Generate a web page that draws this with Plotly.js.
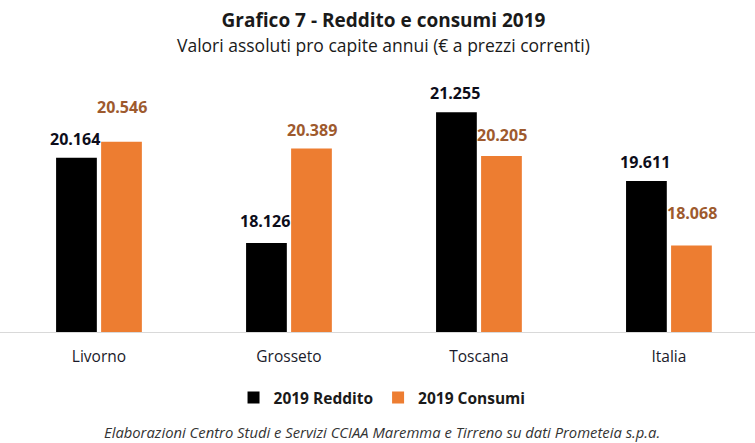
<!DOCTYPE html>
<html>
<head>
<meta charset="utf-8">
<script src="https://cdn.plot.ly/plotly-3.0.1.min.js"></script>
<style>html,body{margin:0;padding:0;background:#fff;}#chart{width:755px;height:443px;}</style>
</head>
<body>
<div id="chart"></div>
<script>
// ---- data ----
const categories = ["Livorno", "Grosseto", "Toscana", "Italia"];
const reddito = [20164, 18126, 21255, 19611];
const consumi = [20546, 20389, 20205, 18068];
const seriesNames = ["2019 Reddito", "2019 Consumi"];

// ---- style ----
const FONT = "'Open Sans', 'Noto Sans', sans-serif";
const redditoShift = [19, 22, 19, 19];   // label pixel offsets above bars
const consumiShift = [35, 18, 21, 32];
const fmt = v => v.toLocaleString('de-DE');

const xIdx = categories.map((c, i) => i);

const traces = [
  {type: 'bar', name: seriesNames[0], x: xIdx, y: reddito,
   marker: {color: '#000000'}, hoverinfo: 'skip'},
  {type: 'bar', name: seriesNames[1], x: xIdx, y: consumi,
   marker: {color: '#ED7D31'}, hoverinfo: 'skip'}
];

const annotations = [];
reddito.forEach((v, i) => annotations.push({
  x: i, y: v, xref: 'x', yref: 'y', xshift: -23.5, yshift: redditoShift[i],
  text: fmt(v), showarrow: false, yanchor: 'middle',
  font: {family: FONT, size: 16, color: '#0d0d1a', weight: 'bold'}
}));
consumi.forEach((v, i) => annotations.push({
  x: i, y: v, xref: 'x', yref: 'y', xshift: 23.5, yshift: consumiShift[i],
  text: fmt(v), showarrow: false, yanchor: 'middle',
  font: {family: FONT, size: 16, color: '#9E5A2E', weight: 'bold'}
}));
annotations.push({
  x: 0.508, y: 1.199, xref: 'paper', yref: 'paper', showarrow: false,
  text: 'Valori assoluti pro capite annui (€ a prezzi correnti)',
  font: {family: FONT, size: 17.5, color: '#1a1a1a'}
});
annotations.push({
  x: 0.506, y: -0.448, xref: 'paper', yref: 'paper', showarrow: false,
  text: '<i>Elaborazioni Centro Studi e Servizi CCIAA Maremma e Tirreno su dati Prometeia s.p.a.</i>',
  font: {family: FONT, size: 14.8, color: '#333333'}
});

const layout = {
  width: 755, height: 443,
  margin: {l: 0, r: 0, t: 81, b: 111, pad: 0},
  paper_bgcolor: '#ffffff', plot_bgcolor: '#ffffff',
  title: {text: '<b>Grafico 7 - Reddito e consumi 2019</b>', x: 0.508, xanchor: 'center',
          y: 1 - 20 / 443, yanchor: 'middle', yref: 'container',
          font: {family: FONT, size: 19, color: '#1a1a1a'}},
  barmode: 'group', bargap: 0.526, bargroupgap: 0.095,
  xaxis: {range: [-0.521, 3.453], tickmode: 'array', tickvals: xIdx, ticktext: categories,
          showgrid: false, zeroline: false, showline: true, linecolor: '#d9d9d9', linewidth: 1,
          ticks: '', ticklen: 0, ticklabelstandoff: 10,
          tickfont: {family: FONT, size: 15.5, color: '#1a1a2a'}, fixedrange: true},
  yaxis: {range: [16000, 22000], visible: false, showgrid: false, zeroline: false, fixedrange: true},
  showlegend: true,
  legend: {orientation: 'h', x: 0.506, xanchor: 'center', y: -0.263, yanchor: 'middle',
           font: {family: FONT, size: 15.5, color: '#1a1a1a', weight: 'bold'},
           itemwidth: 30, traceorder: 'normal'},
  annotations: annotations
};

Plotly.newPlot('chart', traces, layout, {displayModeBar: false, staticPlot: true});
</script>
</body>
</html>
